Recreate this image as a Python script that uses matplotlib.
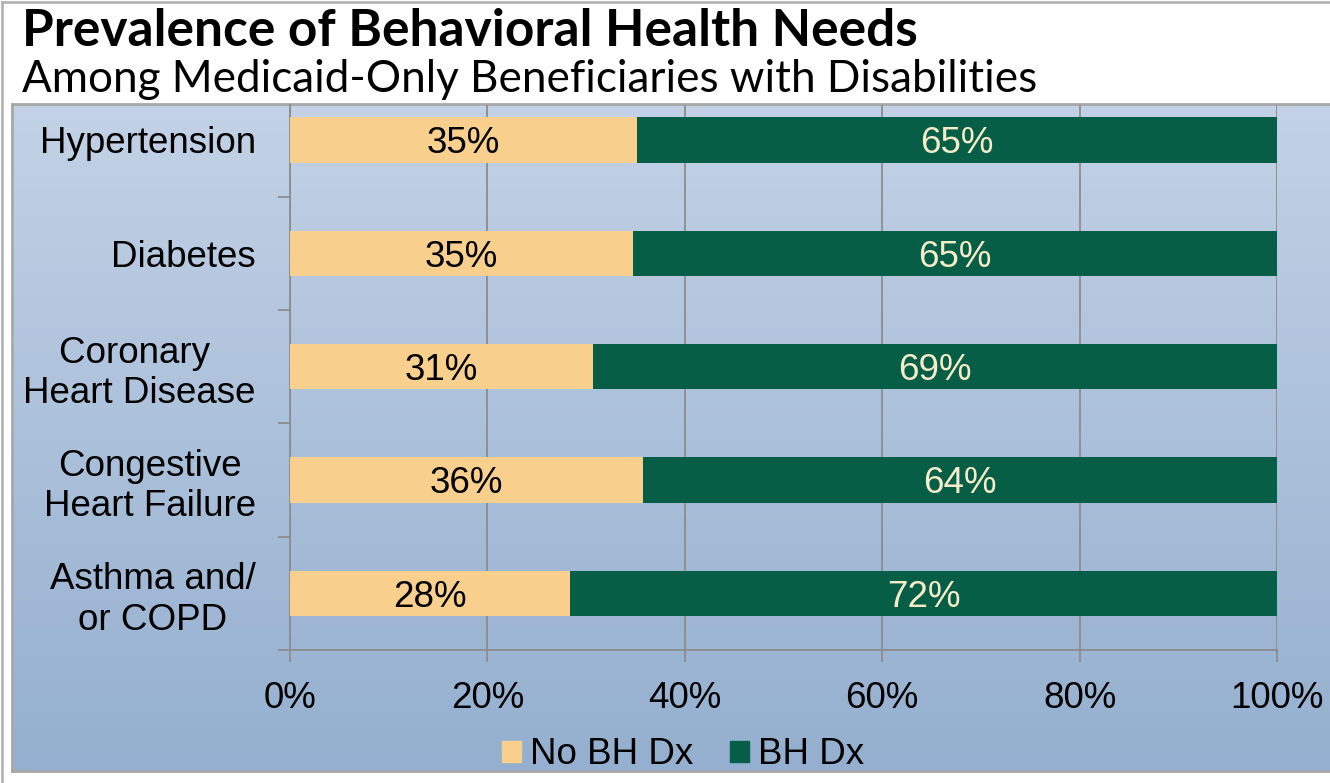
import numpy as np
import matplotlib
matplotlib.use('Agg')
import matplotlib.pyplot as plt
from matplotlib.patches import Patch
from matplotlib.lines import Line2D
from matplotlib.colors import LinearSegmentedColormap

categories = ['Hypertension', 'Diabetes', 'Coronary \nHeart Disease',
              'Congestive\nHeart Failure', 'Asthma and/\nor COPD']
no_bh = [35.2, 34.8, 30.7, 35.8, 28.4]
bh = [100 - v for v in no_bh]
series_names = ['No BH Dx', 'BH Dx']
xticks = [0, 20, 40, 60, 80, 100]

title = 'Prevalence of Behavioral Health Needs'
subtitle = 'Among Medicaid-Only Beneficiaries with Disabilities'

W, H = 1330, 783
fig = plt.figure(figsize=(W / 100, H / 100), dpi=100)
fx = lambda px: px / W
fy = lambda py: 1 - py / H

# outer frame
fig.add_artist(Line2D([fx(2), fx(2)], [0, fy(2)], color='#b4b4b4', lw=2, transform=fig.transFigure))
fig.add_artist(Line2D([fx(2), 1], [fy(2), fy(2)], color='#b4b4b4', lw=2, transform=fig.transFigure))

# chart area with gradient
bg = fig.add_axes([fx(12), fy(771), 1 - fx(12), (771 - 104) / H])
cmap = LinearSegmentedColormap.from_list('bg', ['#94afcf', '#c3d2e6'])
bg.imshow(np.linspace(0, 1, 256).reshape(-1, 1)[::-1], aspect='auto', cmap=cmap,
          extent=[0, 1, 0, 1])
bg.set_xlim(0, 1)
bg.set_ylim(0, 1)
bg.set_xticks([])
bg.set_yticks([])
for s in bg.spines.values():
    s.set_color('#a8a8a8')
    s.set_linewidth(2)
bg.spines['right'].set_visible(False)

# main axes
ax = fig.add_axes([fx(290), fy(650), (1277 - 290) / W, (650 - 105) / H])
ax.patch.set_alpha(0)
ypos = np.arange(len(categories))[::-1]
tan = '#f8cf8c'
green = '#065e46'
ax.barh(ypos, no_bh, height=0.4, color=tan, zorder=3)
ax.barh(ypos, bh, left=no_bh, height=0.4, color=green, zorder=3)

fs = 26.5
for y, a, b in zip(ypos, no_bh, bh):
    ax.text(a / 2, y, f'{round(a)}%', ha='center', va='center_baseline', fontsize=fs,
            family='Liberation Sans', color='black', zorder=4)
    ax.text(a + b / 2, y, f'{round(b)}%', ha='center', va='center_baseline', fontsize=fs,
            family='Liberation Sans', color='#f5ecca', zorder=4)

ax.set_xlim(0, 100)
ax.set_ylim(-0.5, 4 + 35 / 113.5)
ax.set_axisbelow(True)
ax.xaxis.grid(True, color='#8c8c8c', lw=1.3)
for side in ['top', 'right']:
    ax.spines[side].set_visible(False)
for side in ['left', 'bottom']:
    ax.spines[side].set_color('#8c8c8c')
    ax.spines[side].set_linewidth(1.3)

ax.set_xticks(xticks, labels=[f'{v}%' for v in xticks])
ax.set_yticks(ypos, labels=categories)
ax.set_yticks([-0.5, 0.5, 1.5, 2.5, 3.5], minor=True)
ax.tick_params(axis='y', which='major', length=0, pad=24.5)
ax.tick_params(axis='y', which='minor', length=8.6, width=1.3, color='#8c8c8c')
ax.tick_params(axis='x', length=8.6, width=1.3, color='#8c8c8c', pad=14)
for lab in ax.get_xticklabels() + ax.get_yticklabels():
    lab.set_fontsize(fs)
    lab.set_family('Liberation Sans')
for lab in ax.get_yticklabels():
    lab.set_multialignment('center')
    lab.set_linespacing(1.2)

handles = [Patch(color=tan), Patch(color=green)]
em = fs / 72 * 100
fig.legend(handles, series_names, loc='center', bbox_to_anchor=(fx(683), fy(755)),
           ncol=2, frameon=False, prop={'family': 'Liberation Sans', 'size': fs},
           handlelength=19 / em, handleheight=19 / em, handletextpad=9 / em,
           columnspacing=37 / em, borderpad=0, borderaxespad=0)

# titles, fitted to the widths in the reference
t1 = fig.text(fx(22), fy(46), title, fontsize=34, fontweight='bold', family='Lato',
              va='baseline')
t2 = fig.text(fx(22), fy(92), subtitle, fontsize=30, family='Lato', va='baseline')
fig.canvas.draw()
r = fig.canvas.get_renderer()
for t, target in [(t1, 896), (t2, 1011)]:
    w = t.get_window_extent(r).width
    t.set_fontsize(t.get_fontsize() * target / w)

fig.savefig('out.png', dpi=100)
